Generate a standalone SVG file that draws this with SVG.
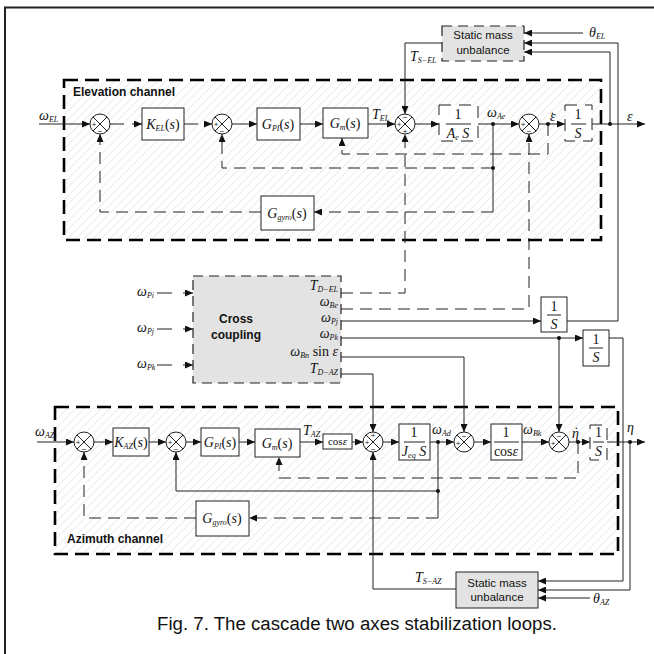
<svg xmlns="http://www.w3.org/2000/svg" width="654" height="654" viewBox="0 0 654 654">
<defs>
<pattern id="hatch" patternUnits="userSpaceOnUse" width="6" height="6" patternTransform="rotate(45)"><line x1="0" y1="0" x2="0" y2="6" stroke="#cfcfcf" stroke-width="0.8"/></pattern>
<marker id="ah" markerUnits="userSpaceOnUse" markerWidth="9" markerHeight="7" refX="8" refY="3.5" orient="auto"><path d="M0,0 L8,3.5 L0,7 z" fill="#111"/></marker>
<g id="sx"><circle r="10" fill="#fff" stroke="#222"/><path d="M-7,-7L7,7M7,-7L-7,7" stroke="#222" fill="none"/></g>
<style>
.ln{fill:none;stroke:#222;stroke-width:1}
.ds{stroke-dasharray:12 7}
.arr{marker-end:url(#ah)}
.blk{fill:#fff;stroke:#222;stroke-width:1}
.dbk{fill:#fff;stroke:#222;stroke-width:1;stroke-dasharray:12 8}
.gray{fill:#e3e3e3;stroke:#222;stroke-width:1}
.gdash{fill:#e3e3e3;stroke:#222;stroke-width:1.2;stroke-dasharray:10 6}
.ch{fill:url(#hatch);stroke:#000;stroke-width:2.6;stroke-dasharray:14 7}
.m{font-family:"Liberation Serif","Times New Roman",serif;font-style:italic;font-size:14px;fill:#111}
.sb{font-size:8px}
.up{font-style:normal}
.lbl{font-family:"Liberation Sans",Arial,sans-serif;font-weight:bold;font-size:12px;fill:#111}
.txt{font-family:"Liberation Sans",Arial,sans-serif;font-size:11.5px;fill:#111}
.sg{font-family:"Liberation Sans",Arial,sans-serif;font-size:8px;fill:#222}
.dot{fill:#111}
</style>
</defs>
<rect width="654" height="654" fill="#fff"/>
<path d="M5,654 V7.5 H654" fill="none" stroke="#222" stroke-width="2"/>

<g id="elevation-channel"><rect class="ch" x="64" y="80" width="537" height="160"/><text x="73" y="96" class="lbl">Elevation channel</text></g>
<g id="azimuth-channel"><rect class="ch" x="55" y="407" width="563" height="147"/><text x="67" y="543" class="lbl">Azimuth channel</text></g>

<g id="connectors">
<path class="ln arr" d="M39,124 H90"/>
<path class="ln arr" d="M110,124 H142" style="stroke-dasharray:14 8"/>
<path class="ln arr" d="M184,124 H212" style="stroke-dasharray:14 8"/>
<path class="ln arr" d="M232,124 H257"/>
<path class="ln arr" d="M300,124 H323"/>
<path class="ln arr" d="M368,124 H395"/>
<path class="ln arr" d="M415,124 H439"/>
<path class="ln arr" d="M478,124 H519"/>
<path class="ln arr" d="M539,124 H565"/>
<path class="ln arr" d="M592,124 H645"/>
<path class="ln arr" d="M583,33 H524"/>
<path class="ln arr" d="M567,321 H618 V43 H524"/>
<path class="ln arr" d="M610,124 V52 H524"/>
<path class="ln arr" d="M442,43 H405 V114"/>
<path class="ln ds arr" d="M341,293 H405 V134"/>
<path class="ln ds arr" d="M341,309 H529 V134"/>
<path class="ln ds arr" d="M548,124 V154 H342 V138"/>
<path class="ln" d="M493,124 V212"/>
<path class="ln ds arr" d="M493,212 H314"/>
<path class="ln ds arr" d="M493,168 H222 V134"/>
<path class="ln ds arr" d="M261,212 H100 V134"/>
<path class="ln arr" d="M157,293 H193" style="stroke-dasharray:15 11"/>
<path class="ln arr" d="M157,329 H193" style="stroke-dasharray:15 11"/>
<path class="ln arr" d="M157,365 H193" style="stroke-dasharray:15 11"/>
<path class="ln arr" d="M341,321 H541"/>
<path class="ln arr" d="M341,338 H583"/>
<path class="ln arr" d="M609,338 H623 V581 H538"/>
<path class="ln arr" d="M559,338 V432"/>
<path class="ln arr" d="M341,357 H464 V432"/>
<path class="ln arr" d="M341,374 H373 V432"/>
<path class="ln arr" d="M37,442 H74"/>
<path class="ln arr" d="M94,442 H113"/>
<path class="ln arr" d="M149,442 H166"/>
<path class="ln arr" d="M186,442 H201"/>
<path class="ln arr" d="M239,442 H255"/>
<path class="ln arr" d="M300,442 H323"/>
<path class="ln arr" d="M352,442 H363"/>
<path class="ln arr" d="M383,442 H399"/>
<path class="ln arr" d="M430,442 H454"/>
<path class="ln arr" d="M474,442 H491"/>
<path class="ln arr" d="M522,442 H549"/>
<path class="ln arr" d="M569,442 H590"/>
<path class="ln arr" d="M607,442 H645"/>
<path class="ln arr" d="M630,442 V590 H538"/>
<path class="ln arr" d="M590,598 H538"/>
<path class="ln arr" d="M456,589 H373 V452"/>
<path class="ln ds arr" d="M578,442 V478 H279 V457"/>
<path class="ln" d="M438,442 V518"/>
<path class="ln arr" d="M438,491 H176 V452"/>
<path class="ln ds arr" d="M438,518 H249"/>
<path class="ln ds arr" d="M196,518 H84 V452"/>
<circle class="dot" cx="493" cy="124" r="2"/>
<circle class="dot" cx="548" cy="124" r="2"/>
<circle class="dot" cx="610" cy="124" r="2"/>
<circle class="dot" cx="493" cy="168" r="2"/>
<circle class="dot" cx="559" cy="338" r="2"/>
<circle class="dot" cx="438" cy="442" r="2"/>
<circle class="dot" cx="438" cy="491" r="2"/>
<circle class="dot" cx="578" cy="442" r="2"/>
<circle class="dot" cx="630" cy="442" r="2"/>
</g>

<g id="labels">
<text class="m" x="39" y="120">ω<tspan class="sb" dy="2">EL</tspan></text>
<text class="m" x="372" y="119">T<tspan class="sb" dy="2">EL</tspan></text>
<text class="m" x="410" y="61">T<tspan class="sb" dy="2">S−EL</tspan></text>
<text class="m" x="589" y="37">θ<tspan class="sb" dy="2">EL</tspan></text>
<text class="m" x="487" y="117">ω<tspan class="sb" dy="2">Ae</tspan></text>
<text class="m" x="550" y="121">ε<tspan class="up" dx="-5.5" dy="1">˙</tspan></text>
<text class="m" x="627" y="121">ε</text>
<text class="m" x="137" y="296">ω<tspan class="sb" dy="2">Pi</tspan></text>
<text class="m" x="137" y="332">ω<tspan class="sb" dy="2">Pj</tspan></text>
<text class="m" x="137" y="368">ω<tspan class="sb" dy="2">Pk</tspan></text>
<text class="m" x="35" y="436">ω<tspan class="sb" dy="2">AZ</tspan></text>
<text class="m" x="303" y="435">T<tspan class="sb" dy="2">AZ</tspan></text>
<text class="m" x="432" y="434">ω<tspan class="sb" dy="2">Ad</tspan></text>
<text class="m" x="523" y="434">ω<tspan class="sb" dy="2">Bk</tspan></text>
<text class="m" x="572" y="438">η<tspan class="up" dx="-5" dy="-1">˙</tspan></text>
<text class="m" x="627" y="432">η</text>
<text class="m" x="415" y="582">T<tspan class="sb" dy="2">S−AZ</tspan></text>
<text class="m" x="593" y="603">θ<tspan class="sb" dy="2">AZ</tspan></text>
</g>

<g id="sum-el1"><use href="#sx" x="100" y="124"/><text class="sg" x="94" y="127" text-anchor="middle">+</text><text class="sg" x="100" y="134" text-anchor="middle">−</text></g>
<g id="sum-el2"><use href="#sx" x="222" y="124"/><text class="sg" x="216" y="127" text-anchor="middle">+</text><text class="sg" x="222" y="134" text-anchor="middle">−</text></g>
<g id="sum-el3"><use href="#sx" x="405" y="124"/><text class="sg" x="399" y="127" text-anchor="middle">+</text><text class="sg" x="405" y="120" text-anchor="middle">−</text><text class="sg" x="405" y="134" text-anchor="middle">+</text></g>
<g id="sum-el4"><use href="#sx" x="529" y="124"/><text class="sg" x="523" y="127" text-anchor="middle">+</text><text class="sg" x="529" y="134" text-anchor="middle">−</text></g>

<g id="k-el"><rect class="blk" x="142" y="108" width="42" height="32"/><text class="m" x="163" y="129" text-anchor="middle">K<tspan class="sb" dy="2">EL</tspan><tspan class="up" dy="-2">(</tspan>s<tspan class="up">)</tspan></text></g>
<g id="gpi-el"><rect class="blk" x="257" y="108" width="43" height="32"/><text class="m" x="278" y="129" text-anchor="middle">G<tspan class="sb" dy="2">PI</tspan><tspan class="up" dy="-2">(</tspan>s<tspan class="up">)</tspan></text></g>
<g id="gm-el"><rect class="blk" x="323" y="108" width="45" height="30"/><text class="m" x="345" y="128" text-anchor="middle">G<tspan class="sb" dy="2">m</tspan><tspan class="up" dy="-2">(</tspan>s<tspan class="up">)</tspan></text></g>
<g id="ae-el"><rect class="dbk" x="439" y="105" width="39" height="36"/><text class="m up" x="458" y="119" text-anchor="middle">1</text><line class="ln" x1="446" y1="124" x2="471" y2="124"/><text class="m" x="458" y="138" text-anchor="middle">A<tspan class="sb" dy="2">e</tspan><tspan dy="-2"> S</tspan></text></g>
<g id="int-el"><rect class="dbk" x="565" y="105" width="27" height="36"/><text class="m up" x="578" y="119" text-anchor="middle">1</text><line class="ln" x1="571" y1="124" x2="586" y2="124"/><text class="m" x="578" y="138" text-anchor="middle">S</text></g>
<g id="ggyro-el"><rect class="blk" x="261" y="196" width="53" height="34"/><text class="m" x="287" y="218" text-anchor="middle">G<tspan class="sb" dy="2">gyro</tspan><tspan class="up" dy="-2">(</tspan>s<tspan class="up">)</tspan></text></g>
<g id="smu-el"><rect class="gdash" x="442" y="26" width="82" height="35"/><text class="txt" x="483" y="39" text-anchor="middle">Static mass</text><text class="txt" x="483" y="54" text-anchor="middle">unbalance</text></g>

<g id="cross-coupling"><rect class="gdash" x="193" y="276" width="148" height="107"/>
<text class="lbl" x="236" y="323" text-anchor="middle">Cross</text><text class="lbl" x="236" y="339" text-anchor="middle">coupling</text>
<text class="m" x="338" y="290" text-anchor="end">T<tspan class="sb" dy="2">D−EL</tspan></text>
<text class="m" x="338" y="306" text-anchor="end">ω<tspan class="sb" dy="2">Be</tspan></text>
<text class="m" x="338" y="322" text-anchor="end">ω<tspan class="sb" dy="2">Pj</tspan></text>
<text class="m" x="338" y="338" text-anchor="end">ω<tspan class="sb" dy="2">Pk</tspan></text>
<text class="m" x="338" y="356" text-anchor="end">ω<tspan class="sb" dy="2">Bn</tspan><tspan class="up" dy="-2"> sin </tspan>ε</text>
<text class="m" x="338" y="373" text-anchor="end">T<tspan class="sb" dy="2">D−AZ</tspan></text>
</g>
<g id="int-pj"><rect class="blk" x="541" y="297" width="26" height="35"/><text class="m up" x="554" y="311" text-anchor="middle">1</text><line class="ln" x1="547" y1="315" x2="561" y2="315"/><text class="m" x="554" y="329" text-anchor="middle">S</text></g>
<g id="int-pk"><rect class="blk" x="583" y="330" width="26" height="36"/><text class="m up" x="596" y="344" text-anchor="middle">1</text><line class="ln" x1="589" y1="348" x2="603" y2="348"/><text class="m" x="596" y="362" text-anchor="middle">S</text></g>

<g id="sum-az1"><use href="#sx" x="84" y="442"/><text class="sg" x="78" y="445" text-anchor="middle">+</text><text class="sg" x="84" y="452" text-anchor="middle">−</text></g>
<g id="sum-az2"><use href="#sx" x="176" y="442"/><text class="sg" x="170" y="445" text-anchor="middle">+</text><text class="sg" x="176" y="452" text-anchor="middle">−</text></g>
<g id="sum-az3"><use href="#sx" x="373" y="442"/><text class="sg" x="367" y="445" text-anchor="middle">+</text><text class="sg" x="373" y="438" text-anchor="middle">+</text><text class="sg" x="373" y="452" text-anchor="middle">−</text></g>
<g id="sum-az4"><use href="#sx" x="464" y="442"/><text class="sg" x="458" y="446" text-anchor="middle">+</text><text class="sg" x="464" y="439" text-anchor="middle">−</text></g>
<g id="sum-az5"><use href="#sx" x="559" y="442"/><text class="sg" x="553" y="446" text-anchor="middle">+</text><text class="sg" x="559" y="439" text-anchor="middle">−</text></g>

<g id="k-az"><rect class="blk" x="113" y="428" width="36" height="28"/><text class="m" x="131" y="447" text-anchor="middle">K<tspan class="sb" dy="2">AZ</tspan><tspan class="up" dy="-2">(</tspan>s<tspan class="up">)</tspan></text></g>
<g id="gpi-az"><rect class="blk" x="201" y="428" width="38" height="28"/><text class="m" x="220" y="447" text-anchor="middle">G<tspan class="sb" dy="2">PI</tspan><tspan class="up" dy="-2">(</tspan>s<tspan class="up">)</tspan></text></g>
<g id="gm-az"><rect class="blk" x="255" y="429" width="45" height="28"/><text class="m" x="277" y="448" text-anchor="middle">G<tspan class="sb" dy="2">m</tspan><tspan class="up" dy="-2">(</tspan>s<tspan class="up">)</tspan></text></g>
<g id="cos-az"><rect class="blk" x="323" y="434" width="29" height="15"/><text class="m" x="337.5" y="445" text-anchor="middle" style="font-size:11px"><tspan class="up">cos</tspan>ε</text></g>
<g id="jeq-az"><rect class="blk" x="399" y="424" width="31" height="36"/><text class="m up" x="414" y="437" text-anchor="middle">1</text><line class="ln" x1="404" y1="442" x2="425" y2="442"/><text class="m" x="414" y="456" text-anchor="middle">J<tspan class="sb" dy="2">eq</tspan><tspan dy="-2"> S</tspan></text></g>
<g id="invcos-az"><rect class="blk" x="491" y="424" width="31" height="36"/><text class="m up" x="506" y="437" text-anchor="middle">1</text><line class="ln" x1="494" y1="442" x2="519" y2="442"/><text class="m" x="506" y="456" text-anchor="middle"><tspan class="up">cos</tspan>ε</text></g>
<g id="int-az"><rect class="dbk" x="590" y="425" width="17" height="35"/><text class="m up" x="598.5" y="437" text-anchor="middle">1</text><line class="ln" x1="593" y1="442" x2="604" y2="442"/><text class="m" x="598.5" y="456" text-anchor="middle">S</text></g>
<g id="ggyro-az"><rect class="blk" x="196" y="501" width="53" height="35"/><text class="m" x="222" y="523" text-anchor="middle">G<tspan class="sb" dy="2">gyro</tspan><tspan class="up" dy="-2">(</tspan>s<tspan class="up">)</tspan></text></g>
<g id="smu-az"><rect class="gray" x="456" y="572" width="82" height="36"/><text class="txt" x="497" y="587" text-anchor="middle">Static mass</text><text class="txt" x="497" y="601" text-anchor="middle">unbalance</text></g>

<text x="357" y="630" text-anchor="middle" textLength="400" lengthAdjust="spacingAndGlyphs" style="font-family:'Liberation Sans',Arial,sans-serif;font-size:18px;fill:#111">Fig. 7. The cascade two axes stabilization loops.</text>
</svg>
